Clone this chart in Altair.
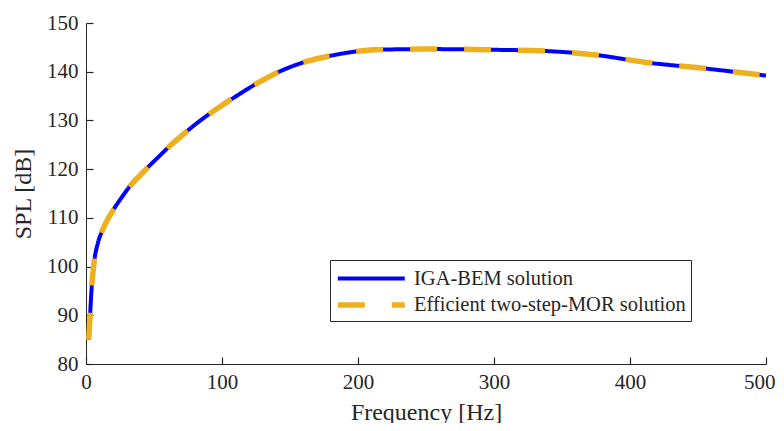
import altair as alt
import pandas as pd

freq = [2, 3, 4, 6, 8.5, 12, 16, 20, 26, 32, 40, 47, 54, 61, 68, 76, 90, 100, 110, 125, 142, 162, 182,
        200, 220, 250, 275, 300, 334, 373, 412, 454, 500]
spl_iga = [85, 90, 95, 101, 104.6, 107.4, 109.7, 111.6, 114.1, 116.4, 118.8, 120.8, 122.7, 124.6, 126.3,
           128.2, 131.2, 133.1, 134.9, 137.5, 140.0, 142.1, 143.4, 144.2, 144.55, 144.65, 144.6, 144.5,
           144.3, 143.5, 141.9, 140.7, 139.2]
spl_mor = list(spl_iga)
series = ["IGA-BEM solution", "Efficient two-step-MOR solution"]
colors = ["#0000ff", "#edb120"]
dashes = [[1, 0], [27, 27]]
widths = [4, 5.5]
x_ticks = [0, 100, 200, 300, 400, 500]
y_ticks = [80, 90, 100, 110, 120, 130, 140, 150]

df = pd.concat([
    pd.DataFrame({"f": freq, "spl": spl_iga, "s": series[0]}),
    pd.DataFrame({"f": freq, "spl": spl_mor, "s": series[1]}),
])

FONT = "Liberation Serif, DejaVu Serif, Times New Roman, serif"
TXT = "#262626"

xscale = alt.Scale(domain=[0, 500], nice=False, zero=False)
yscale = alt.Scale(domain=[80, 150], nice=False, zero=False)

legend = alt.Legend(
    orient="none", legendX=244, legendY=237, title=None,
    fillColor="white", strokeColor=TXT, padding=5,
    symbolType="M-1,0H5", symbolSize=498,
    labelFont=FONT, labelFontSize=20.5, labelColor=TXT, labelOffset=51, labelLimit=500,
    rowPadding=2,
)

enc = dict(
    color=alt.Color("s:N", scale=alt.Scale(domain=series, range=colors), legend=legend),
    strokeDash=alt.StrokeDash("s:N", scale=alt.Scale(domain=series, range=dashes), legend=legend),
    strokeWidth=alt.StrokeWidth("s:N", scale=alt.Scale(domain=series, range=widths), legend=legend),
)

base = alt.Chart(df)

main_x = alt.X("f:Q", scale=xscale, title="Frequency [Hz]",
               axis=alt.Axis(values=x_ticks, ticks=False, labelPadding=7, titlePadding=8,
                             domainColor=TXT, labelFont=FONT, labelFontSize=21, labelColor=TXT,
                             labelAlign={"condition": {"test": "datum.value == 500", "value": "right"},
                                         "value": "center"},
                             labelOffset={"condition": {"test": "datum.value == 500", "value": 9},
                                          "value": 0},
                             titleFont=FONT, titleFontSize=24, titleFontWeight="normal", titleColor=TXT,
                             grid=False, labelFlush=False))
main_y = alt.Y("spl:Q", scale=yscale, title="SPL [dB]",
               axis=alt.Axis(values=y_ticks, ticks=False, labelPadding=8, titlePadding=11,
                             domainColor=TXT, labelFont=FONT, labelFontSize=21, labelColor=TXT,
                             titleFont=FONT, titleFontSize=24, titleFontWeight="normal", titleColor=TXT,
                             grid=False, labelFlush=False))

line_iga = base.transform_filter(alt.datum.s == series[0]).mark_line(interpolate="monotone").encode(
    x=main_x, y=main_y, **enc)

tick_x = alt.X("f:Q", scale=xscale, title=None,
               axis=alt.Axis(values=x_ticks, orient="bottom", offset=-7, tickSize=7, tickColor=TXT,
                             tickWidth=1.2, labels=False, domain=False, grid=False))
tick_y = alt.Y("spl:Q", scale=yscale, title=None,
               axis=alt.Axis(values=y_ticks, orient="left", offset=-7, tickSize=7, tickColor=TXT,
                             tickWidth=1.2, labels=False, domain=False, grid=False))

line_mor = base.transform_filter(alt.datum.s == series[1]).mark_line(interpolate="monotone").encode(
    x=tick_x, y=tick_y, **enc)

chart = alt.layer(line_iga, line_mor).resolve_axis(x="independent", y="independent").properties(
    width=680, height=341,
    autosize=alt.AutoSizeParams(type="none"),
    padding={"left": 78, "top": 15, "right": 10, "bottom": 59},
    background="white",
).configure_view(stroke=None)

chart.save("out.html", embed_options={"renderer": "svg", "actions": False})
